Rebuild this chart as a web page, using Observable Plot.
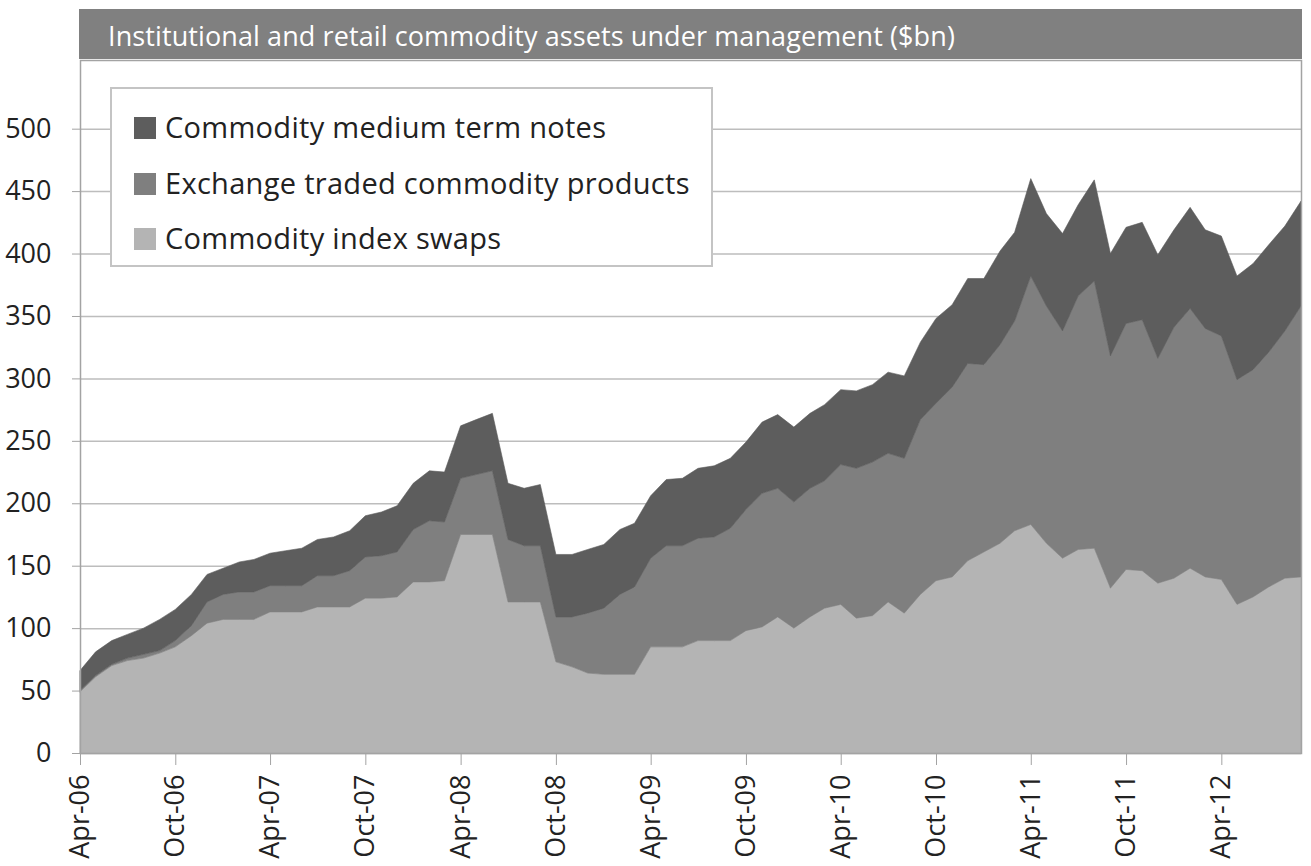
<!DOCTYPE html>
<html>
<head>
<meta charset="utf-8">
<script src="https://cdn.jsdelivr.net/npm/d3@7"></script>
<script src="https://cdn.jsdelivr.net/npm/@observablehq/plot@0.6"></script>
<style>
  html, body { margin: 0; padding: 0; background: white; }
  body { position: relative; width: 1311px; height: 866px; overflow: hidden; font-family: "Open Sans", sans-serif; }
  #title { margin: 9px 0 0 79px; width: 1223px; height: 50px; background: #808080; color: white;
           font-size: 27px; line-height: 54px; padding-left: 29px; box-sizing: border-box; white-space: nowrap; letter-spacing: 0.1px; }
  #legend { position: absolute; left: 110px; top: 87px; width: 603px; height: 180px; box-sizing: border-box;
            border: 2px solid #c4c4c4; background: white; z-index: 2; }
  .row { position: absolute; left: 0; height: 40px; line-height: 40px; font-size: 29px; color: #222; white-space: nowrap; letter-spacing: 0.3px; }
  .sw { position: absolute; left: 22px; top: 10px; width: 22px; height: 22px; }
  .lab { position: absolute; left: 53px; top: 0; }
</style>
</head>
<body>
<div id="title"></div>
<div id="chart"></div>
<div id="legend"></div>
<script>
const titleText = "Institutional and retail commodity assets under management ($bn)";
const seriesNames = ["Commodity index swaps", "Exchange traded commodity products", "Commodity medium term notes"];
const seriesColors = ["#b4b4b4", "#7f7f7f", "#5d5d5d"];
const firstMonth = "2006-04";
const lastMonth = "2012-09";
const tickLabels = ["Apr-06","Oct-06","Apr-07","Oct-07","Apr-08","Oct-08","Apr-09","Oct-09","Apr-10","Oct-10","Apr-11","Oct-11","Apr-12"];
const yTicks = [0, 50, 100, 150, 200, 250, 300, 350, 400, 450, 500];

// $bn, monthly Apr-06 .. Sep-12
const swaps = [49,61,70,74,76,80,85,94,104,107, 107,107,113,113,113,117,117,117,124,124,
  125,137,137,138,175,175,175,121,121,121, 73,69,64,63,63,63,85,85,85,90,
  90,90,98,101,109,100,109,116,119,108, 110,121,112,127,138,141,154,161,168,178,
  183,168,156,163,164,132,147,146,136,140, 148,141,139,119,125,133,140,141];
const etps = [1,1,1,2,3,2,5,8,17,20, 22,22,21,21,21,25,25,29,33,34,
  36,42,49,47,45,48,51,50,45,45, 36,40,48,53,64,70,71,81,81,82,
  83,90,97,107,103,101,103,102,112,120, 123,119,124,140,142,152,158,150,159,168,
  199,190,182,203,214,186,197,201,180,201, 208,199,195,180,182,188,198,217];
const mtns = [16,19,19,19,21,25,25,25,22,21, 24,26,26,28,30,29,31,32,33,35,
  37,37,40,40,42,44,46,45,46,49, 50,50,51,51,52,51,50,53,54,56,
  57,56,54,57,59,60,60,61,60,62, 62,65,66,62,68,66,68,69,75,71,
  78,74,78,73,81,82,77,78,83,78, 81,79,80,83,85,86,84,84];

const parseMonth = d3.utcParse("%Y-%m");
const months = d3.utcMonth.range(parseMonth(firstMonth), d3.utcMonth.offset(parseMonth(lastMonth), 1));
const tickDates = tickLabels.map(d3.utcParse("%b-%y"));
const valuesBySeries = [swaps, etps, mtns];

const rows = months.flatMap((date, i) => seriesNames.map((s, k) => ({date, series: s, value: valuesBySeries[k][i]})));

document.getElementById("title").textContent = titleText;

const chart = Plot.plot({
  width: 1311,
  height: 807,
  marginTop: 1,
  marginLeft: 80,
  marginRight: 10,
  marginBottom: 113,
  style: {fontFamily: "'Open Sans', sans-serif", fontSize: "27px", color: "#222", background: "white", overflow: "visible"},
  x: {type: "utc", domain: [months[0], months[months.length - 1]]},
  y: {domain: [0, 555]},
  color: {domain: seriesNames, range: seriesColors},
  marks: [
    Plot.gridY(yTicks, {stroke: "#bdbdbd", strokeOpacity: 1, strokeWidth: 1.5}),
    Plot.areaY(rows, {x: "date", y: "value", z: "series", fill: "series", stroke: "series", strokeWidth: 0.6, curve: "linear"}),
    Plot.frame({stroke: "#a3a3a3", strokeWidth: 1.5}),
    Plot.axisY(yTicks, {tickSize: 8, tickPadding: 21, stroke: "#a3a3a3", fill: "#222", label: null, fontSize: 27}),
    Plot.axisX(tickDates, {tickSize: 12, tickPadding: 9, tickRotate: -90, tickFormat: d3.utcFormat("%b-%y"),
      stroke: "#a3a3a3", fill: "#222", label: null, fontSize: 27})
  ]
});
document.getElementById("chart").appendChild(chart);

const legend = document.getElementById("legend");
const legendCenters = [38, 94, 149];
[2, 1, 0].forEach((k, j) => {
  const row = document.createElement("div");
  row.className = "row";
  row.style.top = (legendCenters[j] - 20) + "px";
  const sw = document.createElement("div");
  sw.className = "sw";
  sw.style.background = seriesColors[k];
  const lab = document.createElement("div");
  lab.className = "lab";
  lab.textContent = seriesNames[k];
  row.appendChild(sw);
  row.appendChild(lab);
  legend.appendChild(row);
});
</script>
</body>
</html>
